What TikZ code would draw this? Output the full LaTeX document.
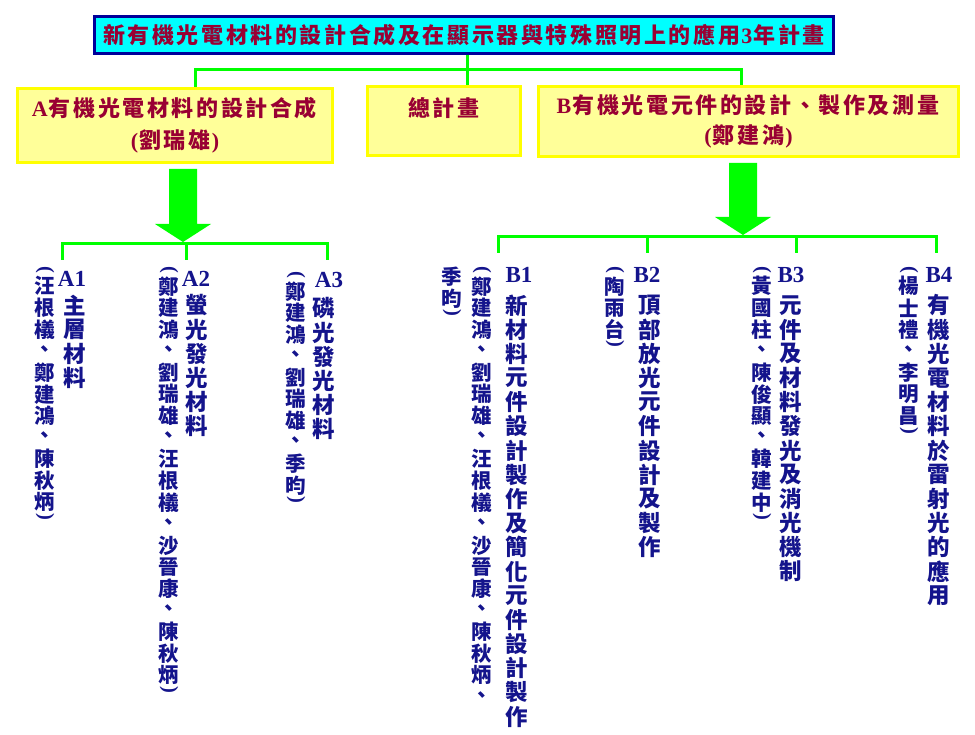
\documentclass[tikz,border=0pt]{standalone}
\usepackage{fontspec}
\usepackage{graphicx}
\setmainfont{Liberation Serif}
\newfontfamily\cjk{Noto Sans CJK TC}
\definecolor{titlefill}{RGB}{0,255,255}
\definecolor{titleline}{RGB}{0,0,153}
\definecolor{boxfill}{RGB}{255,255,153}
\definecolor{boxline}{RGB}{255,255,0}
\definecolor{linkgreen}{RGB}{0,255,0}
\definecolor{headred}{RGB}{153,0,51}
\definecolor{colblue}{RGB}{20,20,140}
\ExplSyntaxOn
\NewDocumentCommand \hrow { m m }
  {
    \tl_map_inline:nn {#2}
      {
        \int_compare:nNnTF { `##1 } > { 255 }
          { \makebox[#1pt]{ \cjk\bfseries ##1 } }
          { \textbf{##1} }
      }
  }
\NewDocumentCommand \vcol { m m }
  {
    \vbox
      {
        \offinterlineskip
        \tl_map_inline:nn {#2}
          {
            \int_compare:nNnTF { `##1 } > { 255 }
              { \hbox to 1.2em { \hss \vbox to #1pt { \vss \hbox { \cjk\bfseries ##1 } \vss } \hss } }
              { \hbox to 1.2em { \hss \vbox to 0.45em { \vss \hbox { \rotatebox[origin=c]{-90}{\textbf{##1}} } \vss } \hss } }
          }
      }
  }
\ExplSyntaxOff
\begin{document}
\begin{tikzpicture}[x=1pt,y=-1pt,
    link/.style={draw=linkgreen,line width=3pt},
    titlebox/.style={draw=titleline,fill=titlefill,line width=3pt,inner sep=0pt,text=headred,font=\fontsize{22}{24}\selectfont},
    headbox/.style={draw=boxline,fill=boxfill,line width=3pt,inner sep=0pt,text=headred,align=center},
    headtext/.style={text=headred,inner sep=0pt,font=\fontsize{22}{24}\selectfont},
    projno/.style={text=colblue,inner sep=0pt,anchor=base,font=\fontsize{23}{23}\selectfont\bfseries},
    titlecol/.style={text=colblue,inner sep=0pt,anchor=north,font=\fontsize{22.5}{22.5}\selectfont},
    namecol/.style={text=colblue,inner sep=0pt,anchor=north,font=\fontsize{20.5}{20.5}\selectfont}]
    \useasboundingbox (0,0) rectangle (975,735);

    \node[titlebox,minimum width=739pt,minimum height=37pt] (title) at (464,35)
        {\hrow{24.6}{新有機光電材料的設計合成及在顯示器與特殊照明上的應用3年計畫}};
    \node[headbox,minimum width=315pt,minimum height=74pt,font=\fontsize{22}{32}\selectfont] (abox) at (175,125.5)
        {\hrow{24.6}{A有機光電材料的設計合成}\\\hrow{24.6}{(劉瑞雄)}};
    \node[headbox,minimum width=153pt,minimum height=69pt] (plan) at (444,121) {};
    \node[headtext] (plantext) at (444,108) {\hrow{24.6}{總計畫}};
    \node[headbox,minimum width=420pt,minimum height=70pt,font=\fontsize{22}{30}\selectfont] (bbox) at (748.5,121.5)
        {\hrow{24.6}{B有機光電元件的設計、製作及測量}\\\hrow{24.6}{(鄭建鴻)}};

    \coordinate (tj) at (467,70);
    \coordinate (ta) at (195,70);
    \coordinate (tb) at (741,70);
    \draw[link] (title.south -| tj) -- (tj |- plan.north);
    \draw[link] (ta |- abox.north) -- (ta) -- (tb) -- (tb |- bbox.north);

    \foreach \cx/\top/\tip in {183/169/242,743/163/235}
        \fill[linkgreen] (\cx-14,\top) -- (\cx+14,\top) -- (\cx+14,\tip-18) -- (\cx+28,\tip-18)
            -- (\cx,\tip) -- (\cx-28,\tip-18) -- (\cx-14,\tip-18) -- cycle;

    \draw[link] (62,260) |- (327,244) -- (327,260);
    \draw[link] (186,244) -- (186,260);
    \draw[link] (498,253) |- (936,237) -- (936,253);
    \foreach \x in {647,796}
        \draw[link] (\x,237) -- (\x,253);

    \node[projno] (a1) at (72,287) {A1};
    \node[titlecol] (a1t) at (75,293) {\vcol{24.2}{主層材料}};
    \node[namecol] (a1n) at (45,266) {\vcol{21.6}{(汪根檥、鄭建鴻、陳秋炳)}};

    \node[projno] (a2) at (196,287) {A2};
    \node[titlecol] (a2t) at (197,293) {\vcol{24.2}{螢光發光材料}};
    \node[namecol] (a2n) at (169,266) {\vcol{21.6}{(鄭建鴻、劉瑞雄、汪根檥、沙晉康、陳秋炳)}};

    \node[projno] (a3) at (329,288) {A3};
    \node[titlecol] (a3t) at (324,296) {\vcol{24.2}{磷光發光材料}};
    \node[namecol] (a3n) at (296,271) {\vcol{21.6}{(鄭建鴻、劉瑞雄、季昀)}};

    \node[projno] (b1) at (519,283) {B1};
    \node[titlecol] (b1t) at (517,293) {\vcol{24.2}{新材料元件設計製作及簡化元件設計製作}};
    \node[namecol] (b1n) at (482,266) {\vcol{21.6}{(鄭建鴻、劉瑞雄、汪根檥、沙晉康、陳秋炳、}};
    \node[namecol] (b1m) at (452,266) {\vcol{21.6}{季昀)}};

    \node[projno] (b2) at (647,283) {B2};
    \node[titlecol] (b2t) at (650,293) {\vcol{24.2}{頂部放光元件設計及製作}};
    \node[namecol] (b2n) at (615,266) {\vcol{21.6}{(陶雨台)}};

    \node[projno] (b3) at (791,283) {B3};
    \node[titlecol] (b3t) at (791,293) {\vcol{24.2}{元件及材料發光及消光機制}};
    \node[namecol] (b3n) at (762,266) {\vcol{21.6}{(黃國柱、陳俊顯、韓建中)}};

    \node[projno] (b4) at (939,283) {B4};
    \node[titlecol] (b4t) at (939,293) {\vcol{24.2}{有機光電材料於雷射光的應用}};
    \node[namecol] (b4n) at (909,266) {\vcol{21.6}{(楊士禮、李明昌)}};
\end{tikzpicture}
\end{document}
